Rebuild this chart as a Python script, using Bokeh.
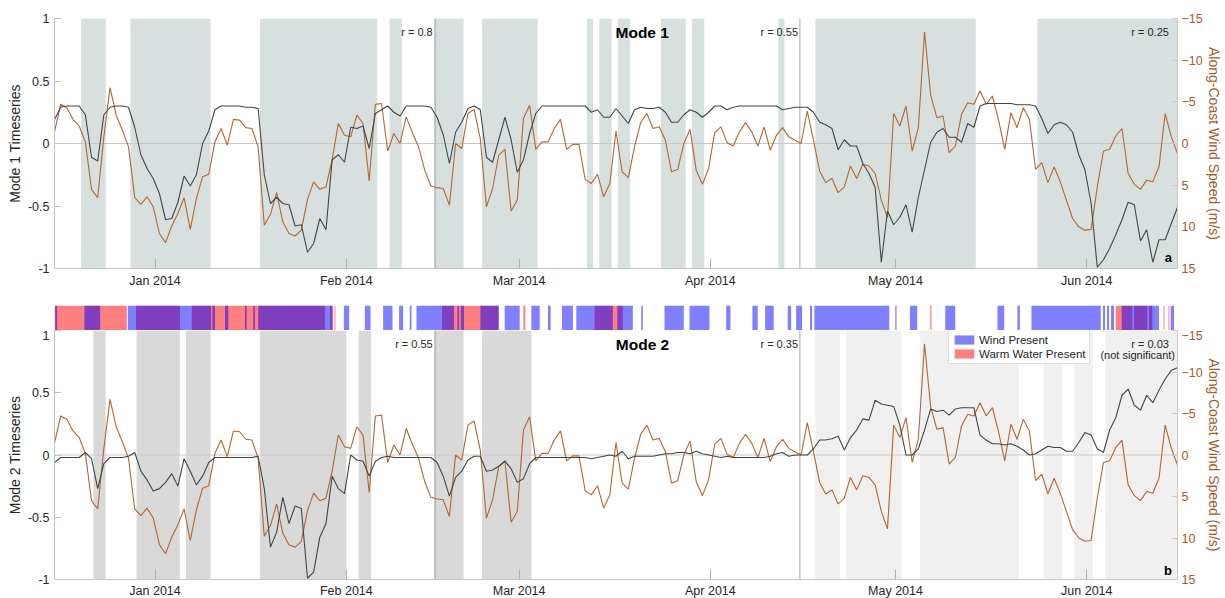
from datetime import datetime, timedelta
from bokeh.plotting import figure
from bokeh.layouts import column
from bokeh.models import (Range1d, LinearAxis, FixedTicker, DatetimeTickFormatter,
                          Span, Label, Legend, LegendItem)
from bokeh.embed import file_html
from bokeh.resources import INLINE

# ---------------------------------------------------------------- data
REF_DATE = datetime(2014, 1, 1)      # day 0 for all day offsets below
FIRST_SAMPLE_DAY = -16.3             # first daily sample, days from 1 Jan 2014

# along-coast wind speed (m/s), daily
wind_speed = [
    -1.4, -4.7, -4.3, -2.9, -2.1, -0.2, 5.5, 6.5, -0.8, -6.7, -3.4, -1.6, 0.4, 6.5, 7.3, 6.4,
    7.6, 10.8, 11.9, 9.9, 8.4, 6.5, 10.3, 6.6, 4.0, 3.7, -0.2, -1.8, 0.2, -2.9, -2.8, -1.9,
    -1.8, 0.4, 9.8, 8.5, 5.9, 9.4, 10.8, 11.1, 10.4, 6.7, 4.6, 5.5, 5.2, 1.9, -2.4, -1.0,
    -0.8, -3.4, -2.4, 4.5, -4.7, -4.8, 0.9, -1.2, 0.0, -3.2, -1.3, 0.4, 3.2, 5.1, 5.3, 5.4, 7.4,
    0.0, 0.6, -3.6, -4.1, -0.6, 7.6, 5.4, 1.4, 0.7, 8.1, 6.8, -3.0, -4.6, 0.7, -0.2,
    -0.2, -1.8, -2.9, 0.7, 0.1, 0.1, 4.3, 4.8, 3.7, 6.4, 4.8, -1.5, 3.4, 4.1, 0.4,
    -2.5, -3.6, -1.8, -2.0, -0.4, 3.4, 3.1, 0.0, -1.7, 3.2, 4.9, 3.0, -1.3, -2.0, -0.1,
    0.3, -1.4, -2.5, -1.4, 0.3, -2.0, 0.8, -1.0, -1.9, -0.8, -0.4, 0.0, -3.9, -0.4,
    3.3, 4.7, 4.2, 5.9, 5.2, 2.7, 4.2, 2.5, 2.7, 3.6, 6.8, 8.9, -3.6, -2.1, -4.5,
    0.9, -1.9, -13.4, -5.8, -3.1, -3.3, 1.1, 0.3, -3.5, -4.9, -4.7, -6.3, -4.7, -5.7, -2.8,
    0.7, -3.7, -1.9, -4.3, -2.9, 3.1, 2.3, 4.7, 2.8, 4.6, 6.8, 9.0, 10.0, 10.4, 10.3,
    5.2, 0.9, 0.7, -0.9, -1.8, 3.6, 4.9, 5.5, 4.4, 4.6, 2.8, -3.6, -0.8, 1.2,
]

# Mode 1 timeseries, daily
mode1_ts = [
    0.19, 0.29, 0.30, 0.30, 0.30, 0.23, -0.11, -0.14, 0.23, 0.29, 0.30, 0.30, 0.29, 0.13,
    -0.09, -0.20, -0.28, -0.40, -0.61, -0.60, -0.47, -0.26, -0.34, -0.25, 0.00, 0.10, 0.27,
    0.30, 0.30, 0.30, 0.30, 0.29, 0.29, 0.28, -0.25, -0.48, -0.43, -0.48, -0.49, -0.66, -0.65,
    -0.87, -0.80, -0.60, -0.69, -0.13, -0.09, -0.15, 0.13, 0.12, 0.14, -0.04, 0.24, 0.27,
    0.30, 0.25, 0.22, 0.30, 0.30, 0.30, 0.30, 0.29, 0.21, 0.07, -0.16,
    0.09, 0.17, 0.28, 0.30, 0.27, -0.11, -0.15, 0.03, 0.21, 0.03,
    -0.23, -0.13, 0.08, 0.24, 0.30, 0.30, 0.30, 0.30, 0.30, 0.30, 0.30, 0.30,
    0.25, 0.27, 0.21, 0.21, 0.28, 0.22, 0.16, 0.27, 0.29, 0.28,
    0.28, 0.29, 0.25, 0.17, 0.17, 0.23, 0.27, 0.25, 0.21, 0.25,
    0.30, 0.30, 0.27, 0.29, 0.30, 0.30, 0.30, 0.30, 0.30, 0.30, 0.30,
    0.27, 0.28, 0.29, 0.29, 0.29, 0.25,
    0.17, 0.15, 0.12, -0.05, 0.03, -0.02, -0.02, -0.16, -0.24, -0.35,
    -0.95, -0.54, -0.65, -0.59, -0.49, -0.71, -0.43, -0.21, 0.01, 0.09,
    0.12, 0.05, 0.05, 0.01, 0.16, 0.13, 0.30, 0.32, 0.32, 0.32,
    0.32, 0.32, 0.31, 0.31, 0.31, 0.30, 0.20, 0.08, 0.15, 0.17,
    0.15, 0.09, -0.09, -0.21, -0.48, -0.99, -0.93, -0.84, -0.73, -0.61,
    -0.47, -0.49, -0.78, -0.69, -0.95, -0.77, -0.77, -0.64, -0.51,
]

# Mode 2 timeseries, daily
mode2_ts = [
    -0.06, -0.02, -0.02, -0.02, -0.02, 0.02, -0.03, -0.27, -0.07, -0.02,
    -0.02, -0.02, -0.01, 0.02, -0.13, -0.20, -0.29, -0.27, -0.22, -0.15,
    -0.25, -0.03, -0.13, -0.24, -0.17, -0.06, -0.02, -0.02, -0.02, -0.02,
    -0.02, -0.02, -0.02, -0.01, -0.27, -0.74, -0.62, -0.34, -0.55, -0.41,
    -0.43, -0.99, -0.94, -0.66, -0.55, -0.17, -0.27, -0.31, 0.00, -0.04,
    -0.05, -0.17, -0.05, -0.02, -0.01, -0.02, -0.02, -0.02, -0.02, -0.02,
    -0.02, -0.02, -0.06, -0.17, -0.33,
    -0.18, -0.13, -0.04, -0.01, -0.01, -0.13, -0.12, -0.09, -0.05, -0.11,
    -0.22, -0.19, -0.07, -0.02, -0.02, -0.02, -0.02, -0.02, -0.02, -0.02,
    -0.02, -0.02, -0.03, -0.02, -0.01, 0.00, -0.01, 0.03, -0.03, -0.01,
    -0.01, -0.01, -0.01, 0.00, 0.01, 0.01, 0.02, 0.02, 0.01, 0.03,
    0.01, 0.00, -0.01, -0.02, -0.01, -0.02, -0.02, -0.02, -0.02, -0.02,
    -0.02, -0.01, 0.01, 0.02, -0.01, 0.00, 0.00, 0.00, 0.05,
    0.12, 0.12, 0.13, 0.15, 0.04, 0.14, 0.20, 0.29, 0.28, 0.44,
    0.41, 0.40, 0.39, 0.24, 0.00, 0.00, 0.05, 0.20, 0.37, 0.35,
    0.36, 0.32, 0.37, 0.38, 0.38, 0.38, 0.16, 0.12, 0.09, 0.09,
    0.08, 0.09, 0.07, 0.04, 0.00, 0.01, 0.04, 0.07, 0.06, 0.06,
    0.03, 0.03, 0.10, 0.18, 0.16, 0.05, 0.02, 0.20, 0.30, 0.48,
    0.53, 0.40, 0.36, 0.48, 0.42, 0.52, 0.61, 0.68, 0.70,
]

# shaded periods (start day, end day), days from 1 Jan 2014
mode1_shading = [(-12, -8), (-4, 9), (17, 36), (38, 40), (45.2, 50), (53, 62), (70, 71),
                 (72, 74), (75, 77), (82, 86), (87, 89), (101, 102), (107, 133), (143, 166)]
mode2_sig_shading = [(-10, -8), (-3, 4), (5, 9), (17, 31), (33, 35), (45.2, 50), (53, 61)]
mode2_nonsig_shading = [(107, 111), (112, 121), (124, 140), (144, 147), (149, 152), (154, 166)]

# boundaries between correlation periods (days)
period_breaks = [45.4, 104.5]

# indicator strip intervals (days)
wind_present = [
    (-16.19, -15.87), (-11.45, -8.90), (-4.42, 9.07), (9.28, 9.71), (11.33, 11.87),
    (14.57, 14.85), (15.91, 16.19), (16.72, 28.77), (30.60, 31.46), (34.00, 34.92),
    (36.96, 38.48), (39.55, 40.20), (41.28, 41.56), (42.37, 48.45), (49.00, 49.26),
    (49.54, 50.07), (52.73, 55.69), (56.66, 59.09), (60.98, 62.33), (63.67, 64.11),
    (65.94, 67.72), (68.27, 74.19), (74.91, 77.43), (78.79, 79.05), (82.56, 85.69),
    (86.61, 89.85), (92.55, 93.25), (96.81, 97.67), (98.87, 100.26), (102.53, 103.08),
    (103.89, 104.86), (106.15, 106.48), (106.85, 118.99), (119.96, 120.17), (122.34, 123.52),
    (128.06, 129.68), (136.52, 137.61), (139.76, 140.15), (142.03, 153.26), (153.63, 153.96),
    (154.28, 154.61), (154.93, 155.42), (156.66, 162.70), (164.60, 165.13),
]
warm_water_present = [
    (-16.30, -4.58), (-3.08, 4.05), (5.94, 27.52), (28.33, 28.77), (29.06, 29.22),
    (46.51, 55.69), (59.69, 60.01), (71.23, 75.81), (125.63, 125.84), (155.69, 158.38),
    (158.65, 160.81), (161.08, 161.62), (163.43, 163.59), (164.24, 164.40),
]

month_ticks = [datetime(2014, m, 1) for m in (1, 2, 3, 4, 5, 6)]
mode1_r_labels = [("r = 0.8", 45.0), ("r = 0.55", 104.2), ("r = 0.25", 164.3)]
mode2_r_labels = [("r = 0.55", 45.0), ("r = 0.35", 104.2), ("r = 0.03", 164.3)]
legend_labels = ["Wind Present", "Warm Water Present"]

# ---------------------------------------------------------------- helpers
EPOCH = datetime(1970, 1, 1)
NAN = float("nan")


def day(d):
    return REF_DATE + timedelta(days=d)


def ms(dt):
    return (dt - EPOCH).total_seconds() * 1000.0


dates = [day(FIRST_SAMPLE_DAY + i) for i in range(len(wind_speed))]

FONT = "Liberation Sans"
WIND_COLOR = "#b3662e"
WIND_TEXT = "#a65a2a"
MODE_COLOR = "#3f4646"
TEXT_COLOR = "#262626"
AXIS_GRAY = "#c4c4c4"

x_range = Range1d(ms(dates[0]), ms(dates[-1]))


def make_panel(frame_h, top_b, bottom_b, ylabel, mode_vals, shade_sets, x_standoff):
    p = figure(frame_width=1123, frame_height=frame_h, x_range=x_range,
               y_range=Range1d(-1, 1), x_axis_type="datetime",
               min_border_left=54, min_border_right=48, min_border_top=top_b,
               min_border_bottom=bottom_b, toolbar_location=None, output_backend="svg")
    p.outline_line_color = None
    p.grid.visible = False
    p.background_fill_color = "white"

    for intervals, color in shade_sets:
        p.quad(left=[day(a) for a, b in intervals], right=[day(b) for a, b in intervals],
               bottom=-1, top=1, fill_color=color, line_color=None, level="image")

    p.add_layout(Span(location=0, dimension="width", line_color="#c8c8c8",
                      line_width=1, level="underlay"))
    for b in period_breaks:
        p.add_layout(Span(location=ms(day(b)), dimension="height", line_color="#a9a9a9",
                          line_width=1, level="underlay"))

    # left axis
    ly = p.yaxis[0]
    ly.ticker = FixedTicker(ticks=[-1, -0.5, 0, 0.5, 1])
    ly.major_label_overrides = {-1: "-1", -0.5: "-0.5", 0: "0", 0.5: "0.5", 1: "1"}
    ly.major_tick_in = 7
    ly.major_tick_out = 0
    ly.minor_tick_in = 0
    ly.minor_tick_out = 0
    ly.axis_line_color = AXIS_GRAY
    ly.major_tick_line_color = AXIS_GRAY
    ly.major_label_text_font = FONT
    ly.major_label_text_font_size = "12.5px"
    ly.major_label_text_color = TEXT_COLOR
    ly.major_label_standoff = 5
    ly.axis_label = ylabel
    ly.axis_label_text_font = FONT
    ly.axis_label_text_font_size = "14px"
    ly.axis_label_text_font_style = "normal"
    ly.axis_label_text_color = TEXT_COLOR
    ly.axis_label_standoff = 2

    # x axis
    xa = p.xaxis[0]
    xa.ticker = FixedTicker(ticks=[ms(t) for t in month_ticks])
    fmt = "%b %Y"
    xa.formatter = DatetimeTickFormatter(microseconds=fmt, milliseconds=fmt, seconds=fmt,
                                         minsec=fmt, minutes=fmt, hourmin=fmt, hours=fmt,
                                         days=fmt, months=fmt, years=fmt)
    xa.major_tick_in = 10
    xa.major_tick_out = 0
    xa.minor_tick_in = 0
    xa.minor_tick_out = 0
    xa.axis_line_color = AXIS_GRAY
    xa.major_tick_line_color = "#b0b0b0"
    xa.major_label_text_font = FONT
    xa.major_label_text_font_size = "12.5px"
    xa.major_label_text_color = TEXT_COLOR
    xa.major_label_standoff = x_standoff

    # right axis (wind)
    p.extra_y_ranges = {"wind": Range1d(15, -15)}
    ry = LinearAxis(y_range_name="wind")
    ry.ticker = FixedTicker(ticks=[-15, -10, -5, 0, 5, 10, 15])
    ry.major_tick_in = 5
    ry.major_tick_out = 0
    ry.minor_tick_in = 0
    ry.minor_tick_out = 0
    ry.axis_line_color = "#d3c8bf"
    ry.major_tick_line_color = "#d3c8bf"
    ry.major_label_text_font = FONT
    ry.major_label_text_font_size = "12.5px"
    ry.major_label_text_color = WIND_TEXT
    ry.major_label_standoff = 4
    ry.axis_label = "Along-Coast Wind Speed (m/s)"
    ry.axis_label_text_font = FONT
    ry.axis_label_text_font_size = "14px"
    ry.axis_label_text_font_style = "normal"
    ry.axis_label_text_color = WIND_TEXT
    ry.axis_label_standoff = 0
    p.add_layout(ry, "right")

    p.line(dates, wind_speed, y_range_name="wind", line_color=WIND_COLOR, line_width=1.1)
    p.line(dates, mode_vals, line_color=MODE_COLOR, line_width=1.1)
    return p


def add_text(p, text, d, y, align="right", size="11px", bold=False):
    p.add_layout(Label(x=ms(day(d)), y=y, text=text, text_align=align,
                       text_baseline="middle", text_font=FONT, text_font_size=size,
                       text_font_style="bold" if bold else "normal",
                       text_color="black" if bold else TEXT_COLOR))


# ---------------------------------------------------------------- top panel
p1 = make_panel(250, 18, 31, "Mode 1 Timeseries", mode1_ts,
                [(mode1_shading, "#d8e0df")], 5)
for txt, d in mode1_r_labels:
    add_text(p1, txt, d, 0.89)
add_text(p1, "Mode 1", 78.95, 0.89, align="center", size="15.5px", bold=True)
add_text(p1, "a", 164.8, -0.91, size="13px", bold=True)

# ---------------------------------------------------------------- strip
strip = figure(frame_width=1123, frame_height=25, x_range=x_range, y_range=Range1d(0, 1),
               x_axis_type="datetime", x_axis_location=None, y_axis_location=None,
               min_border_left=54, min_border_right=48, min_border_top=6,
               min_border_bottom=0, toolbar_location=None, output_backend="svg")
strip.outline_line_color = None
strip.grid.visible = False
strip.quad(left=[day(a) for a, b in warm_water_present],
           right=[day(b) for a, b in warm_water_present],
           bottom=0, top=1, fill_color="#ff0000", fill_alpha=0.5, line_color=None)
strip.quad(left=[day(a) for a, b in wind_present],
           right=[day(b) for a, b in wind_present],
           bottom=0, top=1, fill_color="#0000ff", fill_alpha=0.5, line_color=None)

# ---------------------------------------------------------------- bottom panel
p2 = make_panel(249, 0, 19, "Mode 2 Timeseries", mode2_ts,
                [(mode2_sig_shading, "#d9d9d9"), (mode2_nonsig_shading, "#f0f0f0")], 4)
for txt, d in mode2_r_labels:
    add_text(p2, txt, d, 0.888)
add_text(p2, "Mode 2", 79.0, 0.888, align="center", size="15.5px", bold=True)
add_text(p2, "(not significant)", 165.3, 0.80, align="right")
add_text(p2, "b", 164.8, -0.928, size="13px", bold=True)

# legend swatches (NaN rows: drawn only in the legend)
r_wind = p2.quad(left=[NAN], right=[NAN], top=[NAN], bottom=[NAN], fill_color="#0000ff",
                 fill_alpha=0.5, line_color="#9a9ad8", line_width=0.5)
r_warm = p2.quad(left=[NAN], right=[NAN], top=[NAN], bottom=[NAN], fill_color="#ff0000",
                 fill_alpha=0.5, line_color="#e0a0a0", line_width=0.5)
legend = Legend(items=[LegendItem(label=legend_labels[0], renderers=[r_wind]),
                       LegendItem(label=legend_labels[1], renderers=[r_warm])],
                location=(894, 215), label_text_font=FONT, label_text_font_size="11.5px",
                label_text_color=TEXT_COLOR, glyph_width=24, glyph_height=11,
                label_height=13, label_standoff=3, spacing=1, padding=3, margin=0,
                border_line_color="#bdbdbd", border_line_width=1,
                background_fill_color="white", background_fill_alpha=1.0)
p2.add_layout(legend)

layout = column(p1, strip, p2)
open("out.html", "w").write(file_html(layout, INLINE))
